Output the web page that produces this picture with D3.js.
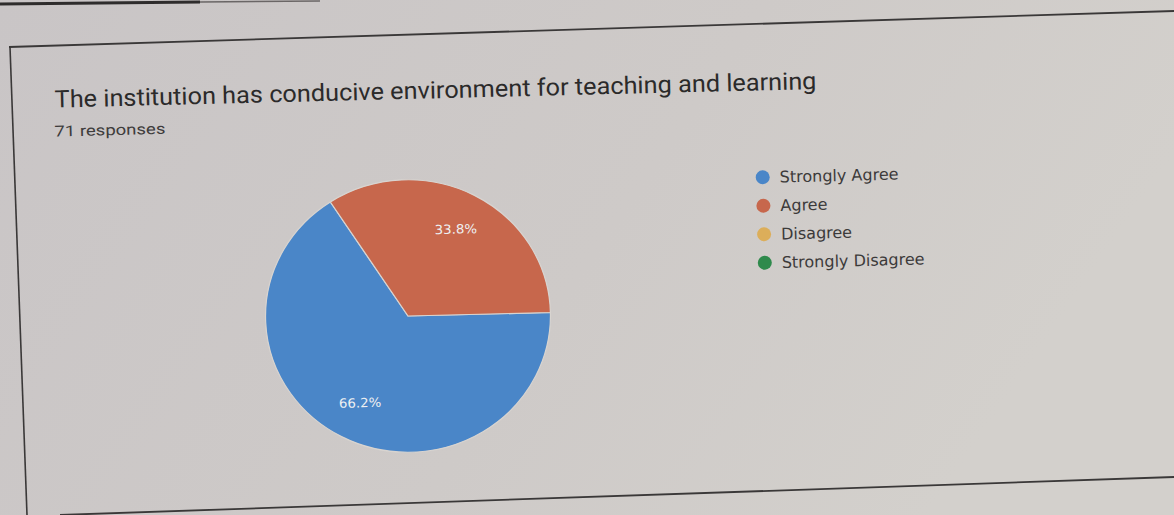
<!DOCTYPE html>
<html>
<head>
<meta charset="utf-8">
<script src="https://cdn.jsdelivr.net/npm/d3@7"></script>
<style>
  body { margin: 0; background: #cdc9c7; }
  svg { display: block; }
</style>
</head>
<body>
<div id="chart"></div>
<script>
// data
const title = "The institution has conducive environment for teaching and learning"
const subtitle = "71 responses"
const categories = ["Strongly Agree", "Agree", "Disagree", "Strongly Disagree"]
const counts = [47, 24, 0, 0]
const colors = ["#4a86c8", "#c7674c", "#dcae5a", "#2f8a4c"]

// page consts
const width = 1174
const height = 515
const cx = 408, cy = 316
const radius = 139
const tilt = -1.4

const svg = d3.select("#chart").append("svg")
    .attr("width", width)
    .attr("height", height)

// paper background, a bit lighter towards the right
const defs = svg.append("defs")
const grad = defs.append("linearGradient").attr("id", "paper")
    .attr("x1", "0").attr("y1", "0").attr("x2", "1").attr("y2", "0.3")
grad.append("stop").attr("offset", "0").attr("stop-color", "#c9c5c6")
grad.append("stop").attr("offset", "0.6").attr("stop-color", "#cecac8")
grad.append("stop").attr("offset", "1").attr("stop-color", "#d3d0cc")
svg.append("rect").attr("width", width).attr("height", height).attr("fill", "url(#paper)")

// frame lines from the printed page
const frame = svg.append("g").attr("fill", "none").attr("stroke", "#3a3838")
frame.append("path").attr("d", "M0,4 L200,2").attr("stroke-width", 3).attr("stroke", "#2e2c2c")
frame.append("path").attr("d", "M200,2 L320,1").attr("stroke-width", 1.5).attr("stroke", "#6a6666")
frame.append("path").attr("d", "M9,47 L1174,11").attr("stroke-width", 1.8)
frame.append("path").attr("d", "M10,47 L27,515").attr("stroke-width", 1.6)
frame.append("path").attr("d", "M60,515 L1174,477").attr("stroke-width", 1.8)

const g = svg.append("g").attr("transform", `rotate(${tilt},${cx},${cy})`)

// title
g.append("text")
    .attr("x", 60).attr("y", 99)
    .attr("font-family", "Roboto, sans-serif")
    .attr("font-size", 24)
    .attr("textLength", 762)
    .attr("lengthAdjust", "spacingAndGlyphs")
    .attr("fill", "#2b2a2a")
    .text(title)

g.append("text")
    .attr("x", 59).attr("y", 128)
    .attr("font-family", "Roboto, sans-serif")
    .attr("font-size", 15)
    .attr("textLength", 111)
    .attr("lengthAdjust", "spacingAndGlyphs")
    .attr("fill", "#3e3c3c")
    .text(subtitle)

// pie
const total = d3.sum(counts)
const pie = d3.pie().sort(null).value(d => d.v)
    .startAngle(Math.PI / 2).endAngle(Math.PI / 2 + 2 * Math.PI)
const arcs = pie(categories.map((c, i) => ({ c: c, v: counts[i], color: colors[i] })))
const arc = d3.arc().innerRadius(0).outerRadius(radius)
const labelArc = d3.arc().innerRadius(radius * 0.72).outerRadius(radius * 0.72)

const pieG = g.append("g").attr("transform", `translate(${cx},${cy}) scale(1.025,0.98)`)
pieG.selectAll("path")
    .data(arcs.filter(d => d.data.v > 0))
    .join("path")
    .attr("d", arc)
    .attr("fill", d => d.data.color)
    .attr("stroke", "#d8d4d0")
    .attr("stroke-width", 1.2)

pieG.selectAll("text")
    .data(arcs.filter(d => d.data.v > 0))
    .join("text")
    .attr("transform", d => `translate(${labelArc.centroid(d)})`)
    .attr("text-anchor", "middle")
    .attr("dy", "0.35em")
    .attr("font-family", "DejaVu Sans, sans-serif")
    .attr("font-size", 13)
    .attr("fill", "#eef0f2")
    .text(d => (d.data.v / total * 100).toFixed(1) + "%")

// legend
const legend = g.append("g").attr("transform", "translate(766,186)")
const rows = legend.selectAll("g")
    .data(categories)
    .join("g")
    .attr("transform", (d, i) => `translate(0,${i * 28.5})`)
rows.append("circle")
    .attr("r", 7)
    .attr("fill", (d, i) => colors[i])
rows.append("text")
    .attr("x", 17)
    .attr("dy", "0.35em")
    .attr("font-family", "DejaVu Sans, sans-serif")
    .attr("font-size", 16)
    .attr("fill", "#3c3a3a")
    .text(d => d)
</script>
</body>
</html>
